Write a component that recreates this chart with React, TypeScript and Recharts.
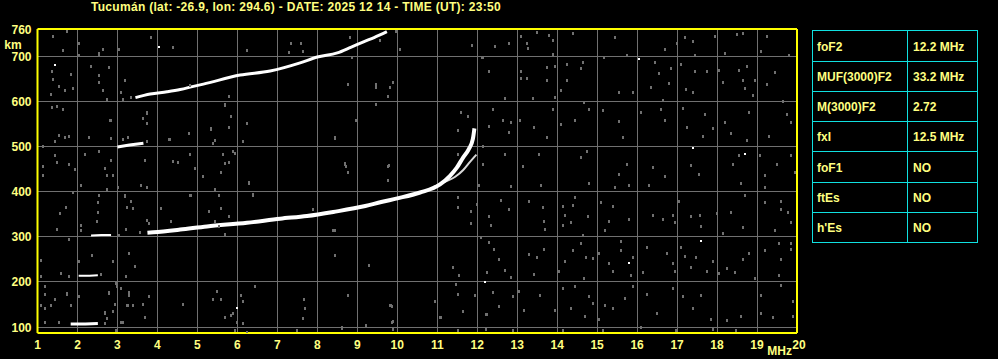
import React from "react";
import {
  ComposedChart,
  Line,
  Scatter,
  XAxis,
  YAxis,
  CartesianGrid,
  ReferenceLine,
} from "recharts";

// ionogram header + parameter table
const TITLE = "Tucumán (lat: -26.9, lon: 294.6) - DATE: 2025 12 14 - TIME (UT): 23:50";
const PARAM_NAMES = ["foF2", "MUF(3000)F2", "M(3000)F2", "fxI", "foF1", "ftEs", "h'Es"];
const PARAM_VALUES = ["12.2 MHz", "33.2 MHz", "2.72", "12.5 MHz", "NO", "NO", "NO"];

const FREQ_TICKS = [1, 2, 3, 4, 5, 6, 7, 8, 9, 10, 11, 12, 13, 14, 15, 16, 17, 18, 19, 20];
const HEIGHT_TICKS = [100, 200, 300, 400, 500, 600, 700, 760];

// traces [MHz, km]
const F2_O = [
  [3.75, 309], [3.9, 310], [4.57, 316], [5.24, 323], [6.24, 331], [7.07, 340],
  [7.74, 346], [8.4, 355], [9.2, 368], [9.6, 377], [10.0, 385], [10.57, 398],
  [11.07, 416], [11.32, 435], [11.49, 453], [11.65, 476], [11.79, 494], [11.89, 516], [11.93, 540],
];
const F2_X = [
  [10.9, 410], [11.2, 422], [11.45, 433], [11.65, 448], [11.82, 466], [11.98, 482],
];
const F2_2HOP = [
  [3.45, 608], [3.82, 616], [4.24, 621], [4.57, 626], [4.9, 633], [5.15, 638],
  [6.07, 658], [6.82, 667], [7.57, 685], [8.0, 698], [8.5, 707], [8.85, 720],
  [9.17, 732], [9.42, 741], [9.74, 754],
];
const SEG_500 = [[3.0, 499], [3.3, 503], [3.65, 507]];
const SEG_300 = [[2.34, 303], [2.6, 304], [2.84, 304]];
const SEG_215 = [[2.03, 214], [2.3, 214], [2.51, 215]];
const SEG_110 = [[1.83, 107], [2.2, 107], [2.51, 108]];

const NOISE_WHITE = [
  [16.04, 694], [17.39, 497], [18.69, 484], [15.8, 243], [17.59, 291], [12.19, 199],
  [1.43, 680], [5.98, 143], [4.03, 721],
];
const NOISE_GREY = [
  [13.1, 745], [13.5, 754], [13.79, 747], [13.9, 736], [14.39, 751], [15.44, 742], [17.2, 742],
  [17.4, 733], [17.94, 745], [18.49, 750], [18.64, 751], [19.24, 744], [12.45, 722], [12.79, 729],
  [13.25, 730], [13.28, 717], [13.89, 705], [15.18, 698], [15.75, 702], [16.69, 716], [17.0, 730],
  [17.45, 702], [18.19, 707], [19.1, 712], [19.8, 702], [12.14, 697], [12.29, 668], [13.1, 668],
  [13.1, 652], [13.24, 652], [13.75, 675], [13.75, 646], [13.95, 679], [14.25, 683], [14.25, 646],
  [14.64, 686], [14.6, 673], [16.45, 686], [16.55, 662], [16.84, 673], [17.09, 683], [17.44, 666],
  [17.74, 666], [18.04, 670], [18.14, 642], [18.54, 670], [18.65, 647], [18.74, 679], [18.94, 647],
  [19.24, 638], [19.44, 664], [12.69, 607], [13.39, 607], [13.95, 609], [14.1, 625], [14.68, 598],
  [15.54, 621], [15.89, 621], [16.34, 631], [16.64, 603], [16.79, 640], [17.23, 627], [17.39, 621],
  [18.69, 629], [18.89, 614], [19.64, 601], [12.39, 582], [12.64, 559], [12.85, 555], [12.3, 546],
  [12.79, 531], [12.14, 502], [13.08, 559], [13.43, 542], [13.74, 520], [13.89, 583], [14.1, 550],
  [14.45, 559], [14.79, 582], [15.14, 581], [15.54, 556], [15.64, 520], [16.09, 577], [16.6, 582],
  [16.69, 559], [17.14, 586], [17.24, 542], [17.69, 572], [17.64, 524], [17.89, 541], [18.19, 555],
  [18.34, 530], [18.79, 577], [18.74, 515], [19.29, 524], [19.84, 555], [19.74, 572], [12.14, 461],
  [12.69, 483], [13.14, 456], [13.54, 483], [14.6, 476], [14.74, 489], [15.54, 439], [15.75, 461],
  [16.39, 454], [16.69, 435], [17.34, 458], [17.54, 439], [18.39, 461], [18.54, 480], [19.08, 480],
  [19.19, 437], [19.5, 461], [19.84, 480], [19.94, 443],
  [12.04, 415], [12.85, 413], [13.6, 415], [14.8, 420], [15.45, 411], [15.79, 415], [16.29, 415],
  [18.6, 420], [19.2, 411], [12.6, 382], [12.79, 362], [12.29, 345], [12.35, 326], [13.29, 380],
  [13.64, 367], [13.68, 335], [13.7, 317], [14.15, 368], [14.39, 371], [14.45, 389], [14.2, 348],
  [14.15, 327], [14.35, 333], [14.64, 304], [14.78, 346], [15.1, 378], [15.39, 368], [15.29, 336],
  [15.19, 315], [15.79, 340], [16.4, 348], [16.64, 340], [16.89, 348], [16.94, 332], [17.04, 379],
  [17.34, 345], [17.57, 348], [17.6, 323], [17.99, 352], [18.34, 354], [18.64, 321], [18.14, 309],
  [18.69, 393], [19.19, 376], [19.59, 380], [19.59, 362], [19.77, 354], [19.85, 332], [19.44, 315],
  [12.3, 288], [12.43, 273], [12.54, 251], [12.25, 223], [12.7, 227], [12.84, 212], [13.29, 262],
  [13.5, 256], [13.68, 272], [13.43, 217], [14.05, 225], [14.19, 247], [14.39, 271], [14.6, 287],
  [14.72, 256], [14.9, 254], [14.68, 208], [15.04, 265], [15.3, 243], [15.39, 225], [15.6, 290],
  [15.6, 270], [15.89, 256], [15.85, 216], [16.14, 221], [16.24, 278], [16.74, 265], [16.89, 243],
  [16.94, 225], [17.1, 278], [17.2, 258], [17.47, 255], [17.34, 234], [17.74, 225], [17.89, 247],
  [18.04, 219], [18.24, 230], [18.44, 221], [18.64, 251], [18.79, 264], [18.95, 208], [19.19, 270],
  [19.54, 287], [19.59, 251], [19.84, 287], [19.84, 273], [19.54, 215],
  [12.4, 177], [12.89, 168], [13.04, 181], [12.54, 147], [12.24, 129], [13.18, 138], [13.57, 171],
  [13.94, 138], [14.14, 186], [14.44, 190], [14.35, 143], [14.69, 124], [14.79, 169], [14.9, 153],
  [15.05, 118], [15.2, 149], [15.39, 143], [15.69, 164], [15.89, 191], [16.24, 173], [16.5, 131],
  [16.89, 186], [17.14, 168], [17.39, 143], [17.59, 172], [17.85, 118], [18.24, 116], [18.59, 125],
  [19.1, 132], [19.1, 172], [19.39, 123], [19.59, 194], [19.89, 157], [19.89, 125], [12.22, 96],
  [12.89, 94], [14.14, 94], [15.14, 94], [16.1, 101], [16.97, 94], [17.89, 96], [18.47, 94],
  [1.38, 744], [1.63, 714], [2.03, 729], [2.03, 702], [2.53, 705], [2.63, 716], [3.03, 716],
  [1.36, 666], [1.38, 649], [1.34, 616], [1.55, 633], [1.7, 626], [1.84, 660], [1.88, 629],
  [2.34, 679], [2.53, 658], [2.63, 626], [2.73, 604], [2.53, 643], [2.8, 675], [3.09, 620],
  [3.18, 646], [3.13, 605], [3.34, 609], [1.37, 587], [1.48, 589], [1.63, 582], [2.84, 559],
  [1.53, 525], [1.7, 520], [1.8, 523], [2.28, 520], [1.43, 511], [1.13, 500], [3.15, 517],
  [3.26, 520], [1.43, 480], [1.5, 466], [1.13, 456], [1.13, 436], [1.78, 461], [1.95, 450],
  [2.09, 415], [2.2, 483], [2.55, 489], [2.68, 452], [2.73, 436], [2.9, 436], [2.84, 469],
  [3.01, 410], [2.73, 405], [2.53, 393], [1.88, 399], [3.18, 391], [3.34, 380], [1.72, 365],
  [1.57, 353], [2.51, 377], [2.51, 354], [2.48, 334], [2.08, 325], [2.1, 315], [1.48, 317],
  [3.22, 317], [3.03, 304], [1.8, 295], [1.09, 249], [2.03, 247], [2.37, 260], [2.9, 247],
  [3.28, 264], [3.43, 235], [1.1, 214], [1.59, 220], [1.78, 214], [2.59, 218], [2.97, 198],
  [3.22, 214], [1.2, 191], [1.2, 173], [1.45, 163], [1.73, 176], [2.03, 170], [1.09, 148],
  [1.34, 148], [1.84, 148], [2.78, 176], [2.68, 133], [2.93, 152], [3.28, 177], [3.26, 148],
  [1.2, 112], [1.55, 112], [3.09, 111], [2.97, 93],
  [3.73, 577], [3.63, 562], [3.73, 551], [3.74, 511], [4.3, 516], [4.78, 529], [5.34, 540],
  [5.84, 568], [5.78, 542], [5.43, 514], [5.4, 507], [6.23, 551], [6.13, 513], [5.68, 592],
  [4.82, 483], [4.38, 467], [3.68, 470], [4.95, 452], [5.13, 435], [5.59, 444], [5.63, 483],
  [5.7, 463], [5.78, 466], [5.88, 489], [5.94, 485], [6.28, 420], [5.43, 405], [4.84, 393],
  [3.59, 415], [3.74, 410], [6.38, 394], [8.44, 520], [8.98, 559], [9.48, 594], [8.69, 463],
  [8.78, 444], [9.78, 457], [9.78, 426], [11.53, 537], [11.59, 577], [11.78, 568], [11.53, 483],
  [11.53, 389],
  [1.19, 190], [1.19, 174], [1.08, 148], [1.33, 148], [1.19, 143], [1.73, 174], [1.83, 148],
  [1.19, 112], [1.53, 112], [2.69, 132], [2.73, 120], [2.69, 109], [2.94, 151], [2.9, 135],
  [2.98, 190], [3.08, 186], [2.78, 177], [3.3, 171], [3.23, 148], [3.38, 148], [3.63, 151],
  [3.78, 168], [3.69, 123], [3.13, 112], [4.63, 151], [5.48, 179], [5.4, 162], [5.58, 162],
  [5.69, 123], [5.83, 127], [5.88, 131], [5.98, 112], [6.13, 157], [6.08, 171], [6.44, 190],
  [6.13, 109], [6.23, 90], [5.94, 94], [7.67, 162], [7.69, 142], [7.63, 121], [7.48, 94],
  [8.78, 171], [8.63, 101], [9.23, 103], [9.83, 148], [9.86, 146], [9.9, 113], [9.9, 96],
  [10.94, 157], [11.08, 122], [11.65, 135], [11.53, 94], [12.23, 129],
  [8.69, 461], [8.78, 444], [9.79, 458], [8.43, 314], [8.43, 260], [9.29, 238], [11.4, 234],
  [11.54, 216], [11.53, 365], [11.84, 358], [11.84, 331], [11.48, 195], [11.53, 174], [11.94, 172],
  [8.78, 171], [11.09, 122], [11.64, 135], [9.88, 112], [9.84, 148], [9.23, 104], [8.63, 98],
  [11.99, 373], [12.1, 300],
  [3.19, 393], [3.33, 380], [3.38, 363], [3.23, 367], [4.08, 363], [3.73, 337], [3.8, 330],
  [3.57, 311], [4.34, 336], [4.82, 393], [5.3, 356], [5.44, 334], [5.55, 393], [5.59, 363],
  [5.79, 345], [5.53, 323], [5.69, 306], [6.38, 393], [6.28, 421], [7.88, 361], [8.4, 315],
  [2.82, 559], [2.84, 518], [3.73, 575], [5.33, 538], [6.13, 511], [4.79, 529], [4.51, 466],
  [4.32, 516], [4.82, 635], [5.69, 595], [5.83, 567], [5.78, 612], [8.78, 638], [9.48, 638],
  [9.47, 631], [9.78, 612], [9.82, 631], [9.9, 643], [8.72, 457], [8.45, 518],
  [1.73, 756], [2.53, 706], [3.83, 743], [4.38, 721], [6.23, 713], [7.33, 730], [7.59, 730],
  [7.28, 708], [7.63, 712], [8.83, 743], [8.88, 699], [9.58, 736], [10.07, 715], [11.88, 724],
  [12.13, 699], [9.97, 756],
];

const toPts = (arr: number[][]) => arr.map(([f, h]) => ({ f, h }));

const YELLOW = "#ffff00";
const TEXT = "#ffff80";
const GRID = "#707070";
const CYAN = "#10e0e0";
const FONT = "'Liberation Sans', Arial, sans-serif";

const Dot = (color: string, tall: boolean) => (props: any) => {
  const { cx, cy } = props;
  if (cx == null || cy == null) return <g />;
  return (
    <rect
      x={Math.round(cx) - 1}
      y={Math.round(cy) - 1}
      width={2}
      height={tall ? 3 : 2}
      fill={color}
      shapeRendering="crispEdges"
    />
  );
};

const FreqTick = (props: any) => {
  const { x, y, payload } = props;
  const v = payload.value;
  return (
    <g>
      <text
        x={v === 20 ? x + 2 : x}
        y={y + 16}
        textAnchor="middle"
        fill={TEXT}
        fontSize={12}
        fontWeight="bold"
        fontFamily={FONT}
      >
        {v}
      </text>
      {v === 20 && (
        <text x={x - 5} y={y + 22} textAnchor="end" fill={TEXT} fontSize={12} fontWeight="bold" fontFamily={FONT}>
          MHz
        </text>
      )}
    </g>
  );
};

const HeightTick = (props: any) => {
  const { x, y, payload } = props;
  const v = payload.value;
  return (
    <g>
      <text x={x - 6} y={y + 4.5} textAnchor="end" fill={TEXT} fontSize={12} fontWeight="bold" fontFamily={FONT}>
        {v}
      </text>
      {v === 760 && (
        <text x={13} y={y + 19.5} textAnchor="middle" fill={TEXT} fontSize={12} fontWeight="bold" fontFamily={FONT}>
          km
        </text>
      )}
    </g>
  );
};

const ROW_LINES = [30.5, 61.5, 91.5, 121.5, 151.5, 182.5, 212.5, 242.5];

function ParamTable() {
  return (
    <svg width={998} height={359} style={{ position: "absolute", left: 0, top: 0, pointerEvents: "none" }}>
      <rect x={812.5} y={30.5} width={165} height={212} fill="none" stroke={CYAN} />
      <line x1={907.5} x2={907.5} y1={30.5} y2={242.5} stroke={CYAN} />
      {ROW_LINES.slice(1, -1).map((y) => (
        <line key={y} x1={812.5} x2={977.5} y1={y} y2={y} stroke={CYAN} />
      ))}
      {PARAM_NAMES.map((name, i) => {
        const cy = (ROW_LINES[i] + ROW_LINES[i + 1]) / 2;
        return (
          <g key={name} fontFamily={FONT} fontSize={12} fontWeight="bold" fill={TEXT}>
            <text x={817} y={cy + 4.5}>{name}</text>
            <text x={913} y={cy + 4.5}>{PARAM_VALUES[i]}</text>
          </g>
        );
      })}
      <text
        x={91}
        y={11}
        fill={TEXT}
        fontSize={12}
        fontWeight="bold"
        fontFamily={FONT}
        letterSpacing={0.3}
      >
        {TITLE}
      </text>
    </svg>
  );
}

export default function App() {
  return (
    <div style={{ position: "relative", width: 998, height: 359, background: "#000" }}>
      <style>{`body{margin:0;background:#000}.recharts-cartesian-grid line{shape-rendering:crispEdges}`}</style>
      <ComposedChart
        width={998}
        height={359}
        margin={{ top: 29, right: 201, left: 0.5, bottom: 0 }}
        style={{ background: "#000" }}
      >
        <CartesianGrid stroke={GRID} strokeWidth={1} fill="#000" />
        <XAxis
          type="number"
          dataKey="f"
          domain={[1, 20]}
          ticks={FREQ_TICKS}
          interval={0}
          height={26}
          tickLine={false}
          tickSize={0}
          tickMargin={0}
          axisLine={{ stroke: YELLOW, strokeWidth: 2 }}
          tick={<FreqTick />}
          allowDataOverflow
        />
        <YAxis
          type="number"
          dataKey="h"
          domain={[87, 760]}
          ticks={HEIGHT_TICKS}
          interval={0}
          width={37}
          tickLine={false}
          tickSize={0}
          tickMargin={0}
          axisLine={{ stroke: YELLOW, strokeWidth: 2 }}
          tick={<HeightTick />}
          allowDataOverflow
        />
        <Scatter data={toPts(NOISE_GREY)} shape={Dot(GRID, true)} isAnimationActive={false} />
        <Scatter data={toPts(NOISE_WHITE)} shape={Dot("#ffffff", false)} isAnimationActive={false} />
        <Line data={toPts(F2_X)} dataKey="h" type="monotone" stroke="#d8d8d8" strokeWidth={2} dot={false} isAnimationActive={false} />
        <Line data={toPts(F2_O)} dataKey="h" type="monotone" stroke="#ffffff" strokeWidth={4} dot={false} isAnimationActive={false} />
        <Line data={toPts(F2_2HOP)} dataKey="h" type="monotone" stroke="#ffffff" strokeWidth={3} dot={false} isAnimationActive={false} />
        <Line data={toPts(SEG_500)} dataKey="h" type="linear" stroke="#ffffff" strokeWidth={3} dot={false} isAnimationActive={false} />
        <Line data={toPts(SEG_300)} dataKey="h" type="linear" stroke="#ffffff" strokeWidth={2} dot={false} isAnimationActive={false} />
        <Line data={toPts(SEG_215)} dataKey="h" type="linear" stroke="#ffffff" strokeWidth={2} dot={false} isAnimationActive={false} />
        <Line data={toPts(SEG_110)} dataKey="h" type="linear" stroke="#ffffff" strokeWidth={3} dot={false} isAnimationActive={false} />
        <ReferenceLine y={760} stroke={YELLOW} strokeWidth={2} />
        <ReferenceLine x={20} stroke={YELLOW} strokeWidth={2} />
      </ComposedChart>
      <ParamTable />
    </div>
  );
}
